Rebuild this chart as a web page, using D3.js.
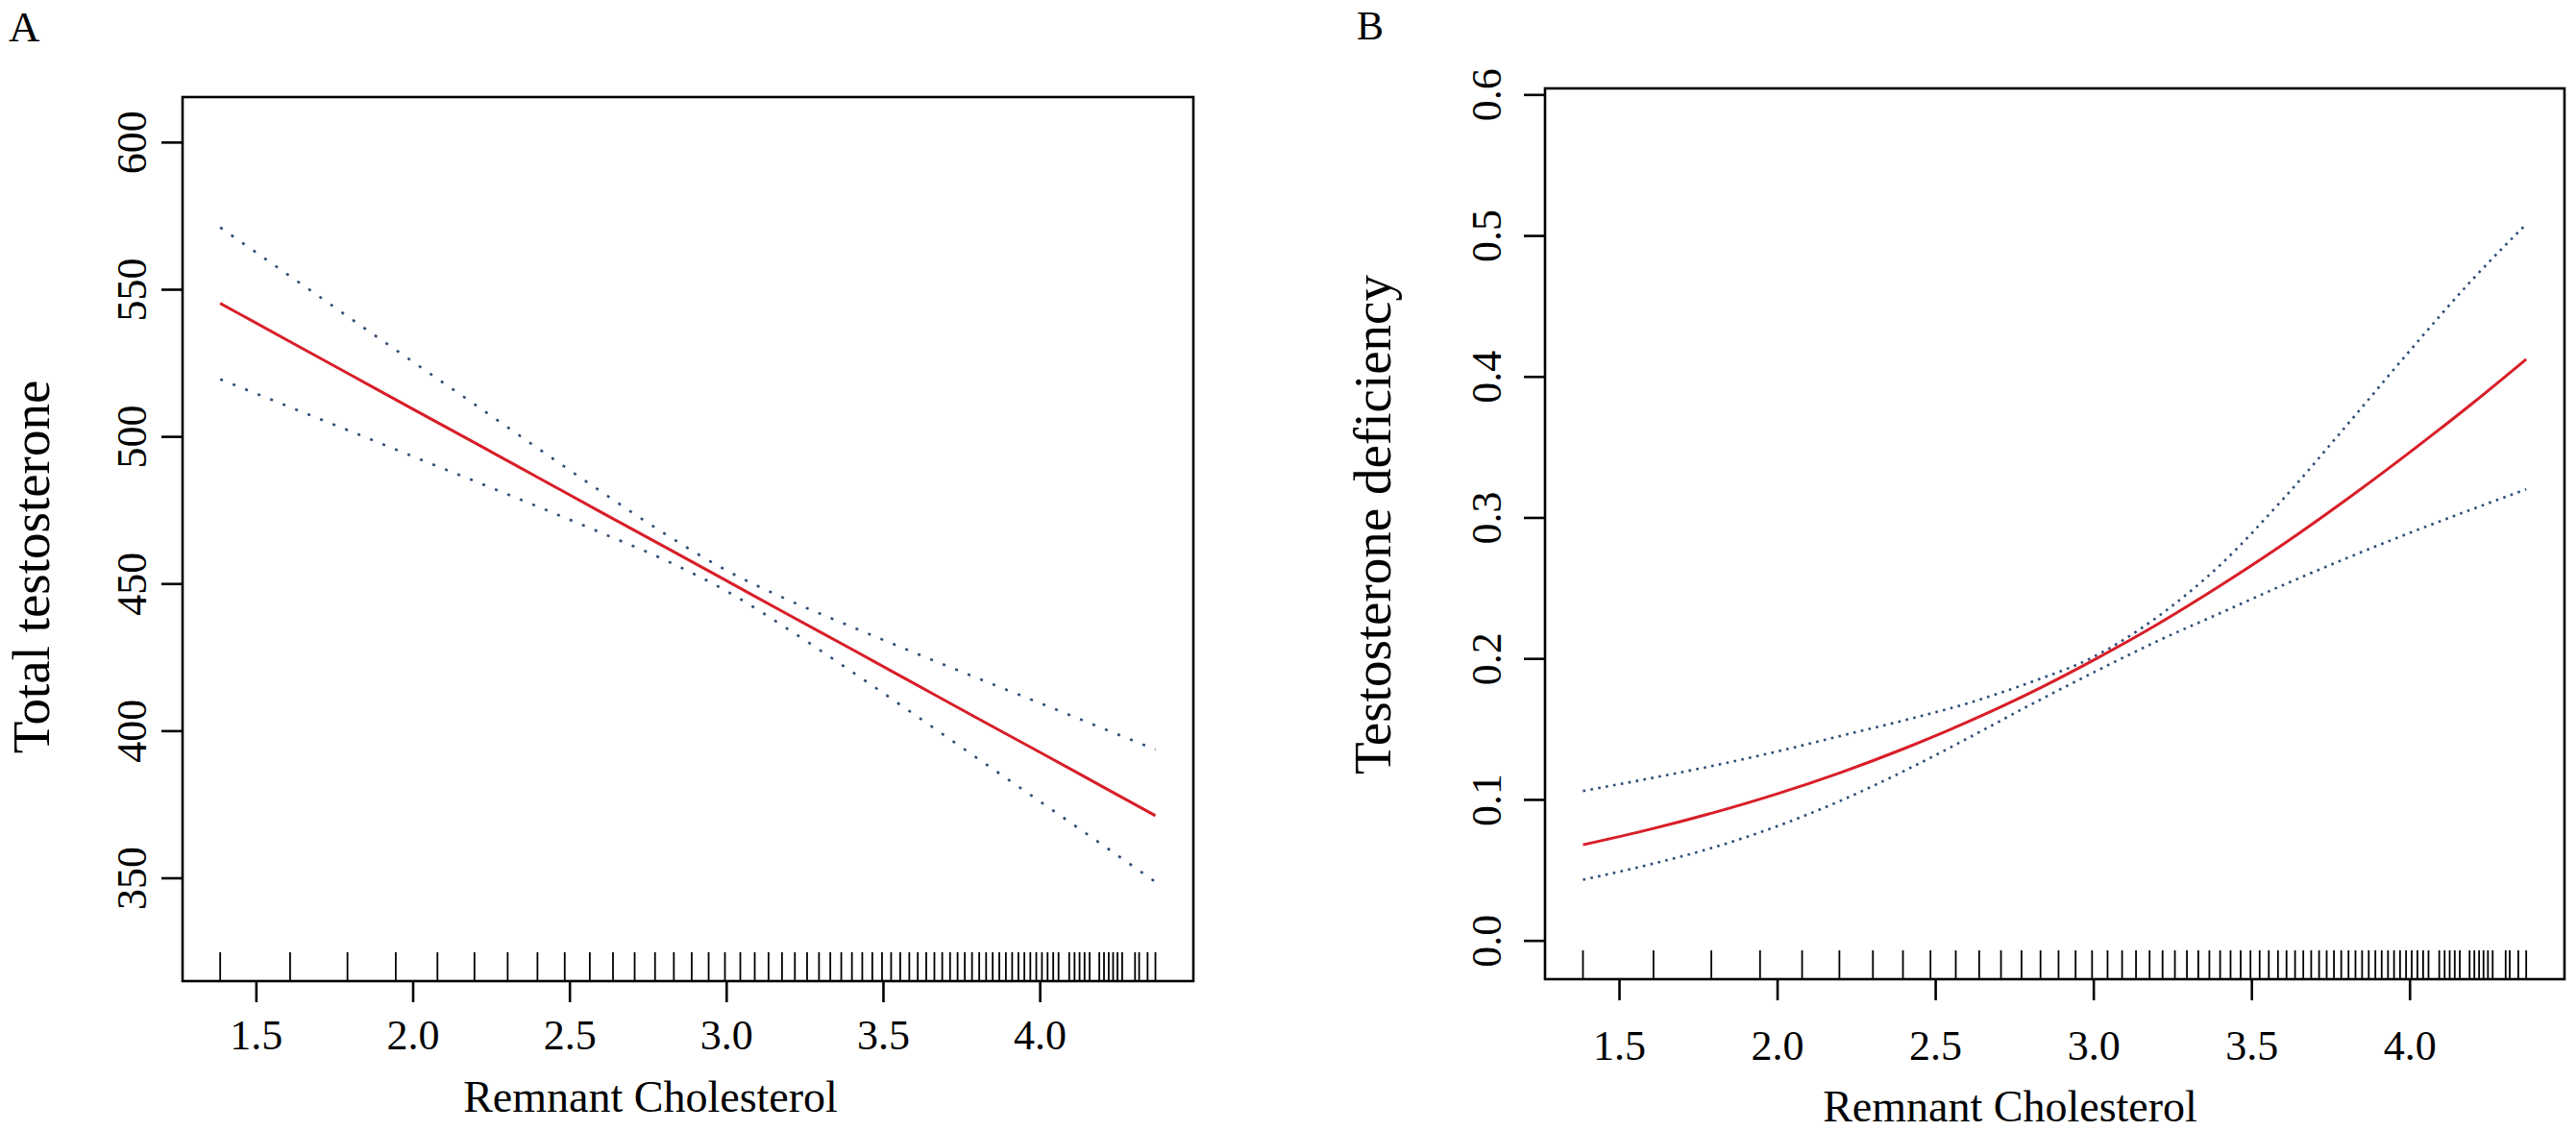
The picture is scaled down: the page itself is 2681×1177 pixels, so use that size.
<!DOCTYPE html>
<html>
<head>
<meta charset="utf-8">
<script src="https://cdn.jsdelivr.net/npm/d3@7"></script>
<style>
  body { margin: 0; background: #fff; }
  svg text { font-family: "Liberation Serif", "Times New Roman", serif; fill: #000; }
</style>
</head>
<body>
<svg id="chart" width="2681" height="1177"></svg>
<script>
const FONT = "'Liberation Serif', 'Times New Roman', serif";

const xGrid = [1.386, 1.6, 1.8, 2.0, 2.2, 2.4, 2.6, 2.8, 3.0, 3.2, 3.4, 3.6, 3.8, 4.0, 4.2, 4.369];

// panel A: total testosterone, fit and 95% CI
const fitA   = [545.2, 532.7, 521.0, 509.3, 497.7, 486.0, 474.3, 462.7, 451.0, 439.3, 427.7, 416.0, 404.3, 392.7, 381.0, 371.1];
const upperA = [571.0, 555.1, 540.2, 525.4, 510.7, 495.9, 481.3, 467.2, 454.5, 444.3, 435.3, 426.5, 417.9, 409.4, 400.8, 393.6];
const lowerA = [519.4, 510.3, 501.8, 493.2, 484.7, 476.1, 467.3, 458.2, 447.5, 434.3, 420.1, 405.5, 390.7, 376.0, 361.2, 348.6];

// panel B: testosterone deficiency, fit and 95% CI
const fitB   = [0.0678, 0.0789, 0.0907, 0.1040, 0.1190, 0.1359, 0.1547, 0.1755, 0.1987, 0.2238, 0.2514, 0.2809, 0.3126, 0.3461, 0.3811, 0.4122];
const upperB = [0.106, 0.115, 0.124, 0.134, 0.145, 0.156, 0.168, 0.183, 0.201, 0.229, 0.266, 0.313, 0.365, 0.418, 0.469, 0.508];
const lowerB = [0.043, 0.054, 0.066, 0.081, 0.099, 0.120, 0.143, 0.167, 0.190, 0.212, 0.232, 0.252, 0.271, 0.289, 0.306, 0.320];

// rug of observed x values (same in both panels)
const rugX = [1.386, 1.609, 1.792, 1.946, 2.079, 2.197, 2.303, 2.398, 2.485, 2.565,
  2.639, 2.708, 2.773, 2.833, 2.890, 2.944, 2.996, 3.045, 3.091, 3.135,
  3.178, 3.219, 3.258, 3.296, 3.332, 3.367, 3.401, 3.434, 3.466, 3.497,
  3.526, 3.555, 3.584, 3.611, 3.638, 3.664, 3.689, 3.714, 3.738, 3.761,
  3.784, 3.807, 3.829, 3.850, 3.871, 3.892, 3.912, 3.932, 3.951, 3.970,
  3.989, 4.007, 4.025, 4.043, 4.060, 4.094, 4.111, 4.127, 4.143, 4.159,
  4.190, 4.205, 4.220, 4.234, 4.248, 4.263, 4.304, 4.317, 4.344, 4.369];

const xTicks  = [1.5, 2.0, 2.5, 3.0, 3.5, 4.0];
const yTicksA = [350, 400, 450, 500, 550, 600];
const yTicksB = [0.0, 0.1, 0.2, 0.3, 0.4, 0.5, 0.6];

const xTitle = "Remnant Cholesterol";

const svg = d3.select("#chart");
svg.append("rect").attr("width", 2681).attr("height", 1177).attr("fill", "#fff");

const panels = [
  {
    letter: "A", letterX: 9, letterY: 43, letterSize: 45,
    left: 190, right: 1242, top: 101, bottom: 1021,
    yDomain: [314.9, 615.3], yTicks: yTicksA, yFormat: d3.format("d"),
    fit: fitA, upper: upperA, lower: lowerA,
    yTitle: "Total testosterone", yTitleX: 51, yTitleY: 590,
    yLabelOffset: 38, xLabelOffset: 71, xTitleX: 677, xTitleY: 1157,
    dash: "3 11"
  },
  {
    letter: "B", letterX: 1412, letterY: 41, letterSize: 42,
    left: 1608, right: 2669, top: 92, bottom: 1019,
    yDomain: [-0.0275, 0.6043], yTicks: yTicksB, yFormat: d3.format(".1f"),
    fit: fitB, upper: upperB, lower: lowerB,
    yTitle: "Testosterone deficiency", yTitleX: 1447, yTitleY: 546,
    yLabelOffset: 46, xLabelOffset: 84, xTitleX: 2092, xTitleY: 1167,
    dash: "2.6 5.4"
  }
];

function drawPanel(p) {
  const x = d3.scaleLinear().domain([1.266, 4.490]).range([p.left, p.right]);
  const y = d3.scaleLinear().domain(p.yDomain).range([p.bottom, p.top]);
  const g = svg.append("g").attr("class", "panel").attr("font-family", FONT);

  // panel letter
  g.append("text")
    .attr("x", p.letterX).attr("y", p.letterY)
    .attr("font-size", p.letterSize)
    .text(p.letter);

  // x axis
  const xAxis = g.append("g")
    .attr("transform", `translate(0,${p.bottom})`)
    .call(d3.axisBottom(x).tickValues(xTicks).tickSize(22).tickFormat(d3.format(".1f")))
    .attr("font-family", FONT);
  xAxis.select(".domain").remove();
  xAxis.selectAll("line").attr("stroke", "#000").attr("stroke-width", 2.6);
  xAxis.selectAll("text")
    .attr("y", p.xLabelOffset).attr("dy", null)
    .attr("font-family", FONT)
    .attr("font-size", 44);

  // y axis with labels turned parallel to the axis
  const yAxis = g.append("g")
    .attr("transform", `translate(${p.left},0)`)
    .call(d3.axisLeft(y).tickValues(p.yTicks).tickSize(22).tickFormat(p.yFormat))
    .attr("font-family", FONT);
  yAxis.select(".domain").remove();
  yAxis.selectAll("line").attr("stroke", "#000").attr("stroke-width", 2.6);
  yAxis.selectAll("text")
    .attr("x", null).attr("dy", null)
    .attr("text-anchor", "middle")
    .attr("transform", `translate(${-p.yLabelOffset},0) rotate(-90)`)
    .attr("font-family", FONT)
    .attr("font-size", 44);

  // rug along the bottom
  g.append("g").selectAll("line")
    .data(rugX)
    .enter()
    .append("line")
    .attr("x1", d => x(d)).attr("x2", d => x(d))
    .attr("y1", p.bottom).attr("y2", p.bottom - 30)
    .attr("stroke", "#000").attr("stroke-width", 1.8);

  // curves
  const line = d3.line()
    .x((d, i) => x(xGrid[i]))
    .y(d => y(d))
    .curve(d3.curveMonotoneX);

  [p.upper, p.lower].forEach(series => {
    g.append("path")
      .attr("d", line(series))
      .attr("fill", "none")
      .attr("stroke", "#2d4d78")
      .attr("stroke-width", 2.6)
      .attr("stroke-dasharray", p.dash);
  });

  g.append("path")
    .attr("d", line(p.fit))
    .attr("fill", "none")
    .attr("stroke", "#d81e28")
    .attr("stroke-width", 3);

  // frame
  g.append("rect")
    .attr("x", p.left).attr("y", p.top)
    .attr("width", p.right - p.left).attr("height", p.bottom - p.top)
    .attr("fill", "none")
    .attr("stroke", "#000").attr("stroke-width", 2.6);

  // axis titles
  g.append("text")
    .attr("x", p.xTitleX).attr("y", p.xTitleY)
    .attr("text-anchor", "middle")
    .attr("font-size", 46)
    .text(xTitle);

  g.append("text")
    .attr("transform", `translate(${p.yTitleX},${p.yTitleY}) rotate(-90)`)
    .attr("text-anchor", "middle")
    .attr("font-size", 55)
    .text(p.yTitle);
}

panels.forEach(drawPanel);
</script>
</body>
</html>
